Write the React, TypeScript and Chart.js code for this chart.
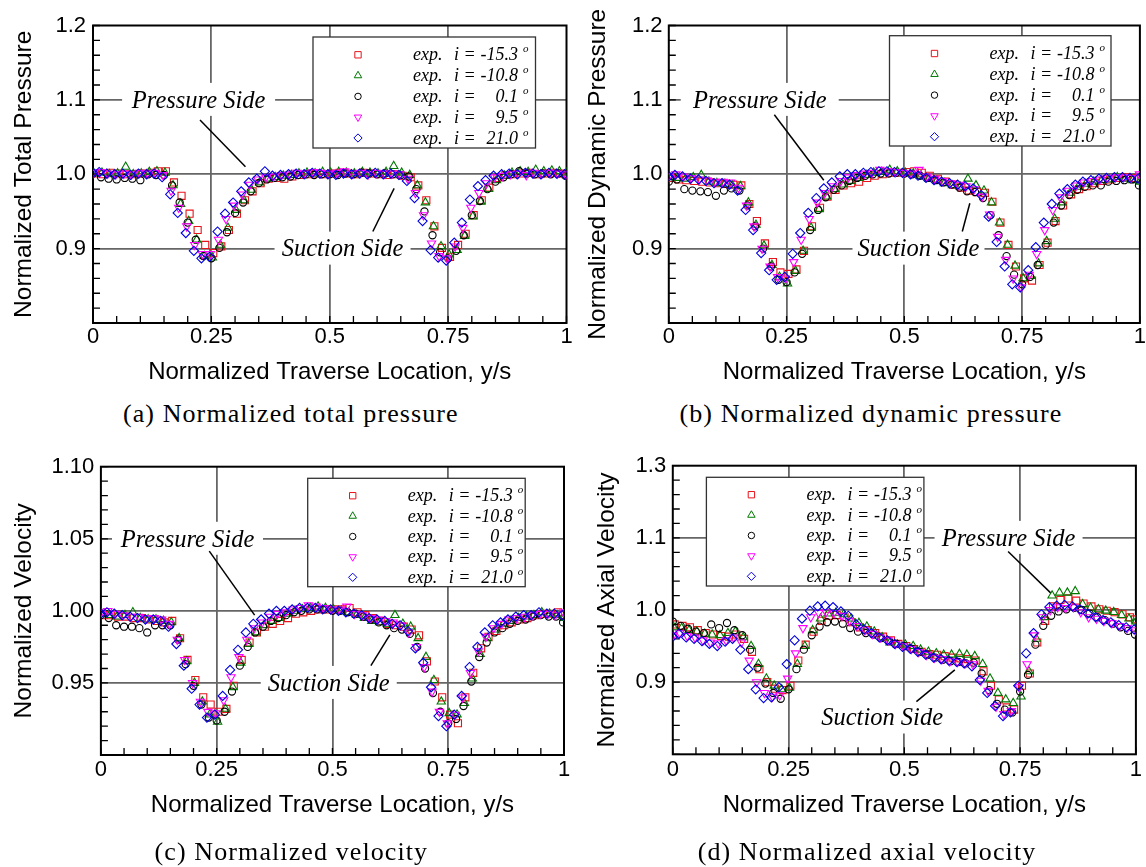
import React, { useEffect, useRef } from "react";
import { Chart, registerables } from "chart.js";
import { drawPoint } from "chart.js/helpers";

Chart.register(...registerables);

const SANS = '"Liberation Sans", Arial, Helvetica, sans-serif';
const SERIF = '"Liberation Serif", "Times New Roman", serif';

// Traverse positions (y/s) of each incidence run
const traverseRed = [
  0.004, 0.021, 0.037, 0.054, 0.071, 0.087, 0.104, 0.121, 0.137, 0.154,
  0.171, 0.187, 0.204, 0.221, 0.237, 0.254, 0.271, 0.287, 0.304, 0.321,
  0.337, 0.354, 0.371, 0.387, 0.404, 0.421, 0.437, 0.454, 0.471, 0.487,
  0.504, 0.521, 0.537, 0.554, 0.571, 0.587, 0.604, 0.621, 0.637, 0.654,
  0.671, 0.687, 0.704, 0.721, 0.737, 0.754, 0.771, 0.787, 0.804, 0.821,
  0.837, 0.854, 0.871, 0.887, 0.904, 0.921, 0.937, 0.954, 0.971, 0.987,
  0.998,
];
const traverseGreen = [
  0.002, 0.019, 0.035, 0.052, 0.069, 0.085, 0.102, 0.119, 0.135, 0.152,
  0.169, 0.185, 0.202, 0.219, 0.235, 0.252, 0.269, 0.285, 0.302, 0.319,
  0.335, 0.352, 0.369, 0.385, 0.402, 0.419, 0.435, 0.452, 0.469, 0.485,
  0.502, 0.519, 0.535, 0.552, 0.569, 0.585, 0.602, 0.619, 0.635, 0.652,
  0.669, 0.685, 0.702, 0.719, 0.735, 0.752, 0.769, 0.785, 0.802, 0.819,
  0.835, 0.852, 0.869, 0.885, 0.902, 0.919, 0.935, 0.952, 0.969, 0.985,
  1.0,
];
const traverseBlack = [
  0.0, 0.017, 0.033, 0.05, 0.067, 0.083, 0.1, 0.117, 0.133, 0.15,
  0.167, 0.183, 0.2, 0.217, 0.233, 0.25, 0.267, 0.283, 0.3, 0.317,
  0.333, 0.35, 0.367, 0.383, 0.4, 0.417, 0.433, 0.45, 0.467, 0.483,
  0.5, 0.517, 0.533, 0.55, 0.567, 0.583, 0.6, 0.617, 0.633, 0.65,
  0.667, 0.683, 0.7, 0.717, 0.733, 0.75, 0.767, 0.783, 0.8, 0.817,
  0.833, 0.85, 0.867, 0.883, 0.9, 0.917, 0.933, 0.95, 0.967, 0.983,
  0.998,
];
const traverseMagenta = [
  0.001, 0.015, 0.031, 0.048, 0.065, 0.081, 0.098, 0.115, 0.131, 0.148,
  0.165, 0.181, 0.198, 0.215, 0.231, 0.248, 0.265, 0.281, 0.298, 0.315,
  0.331, 0.348, 0.365, 0.381, 0.398, 0.415, 0.431, 0.448, 0.465, 0.481,
  0.498, 0.515, 0.531, 0.548, 0.565, 0.581, 0.598, 0.615, 0.631, 0.648,
  0.665, 0.681, 0.698, 0.715, 0.731, 0.748, 0.765, 0.781, 0.798, 0.815,
  0.831, 0.848, 0.865, 0.881, 0.898, 0.915, 0.931, 0.948, 0.965, 0.981,
  0.999,
];
const traverseBlue = [
  0.0, 0.013, 0.029, 0.046, 0.063, 0.079, 0.096, 0.113, 0.129, 0.146,
  0.163, 0.179, 0.196, 0.213, 0.229, 0.246, 0.263, 0.279, 0.296, 0.313,
  0.329, 0.346, 0.363, 0.379, 0.396, 0.413, 0.429, 0.446, 0.463, 0.479,
  0.496, 0.513, 0.529, 0.546, 0.563, 0.579, 0.596, 0.613, 0.629, 0.646,
  0.663, 0.679, 0.696, 0.713, 0.729, 0.746, 0.763, 0.779, 0.796, 0.813,
  0.829, 0.846, 0.863, 0.879, 0.896, 0.913, 0.929, 0.946, 0.963, 0.979,
  0.996,
];

// (a) normalized total pressure
const totalPressureRed = [
  1.001, 1.0, 1.002, 1.001, 1.0, 1.0, 1.001, 1.002, 1.004, 1.004,
  0.989, 0.971, 0.947, 0.925, 0.905, 0.894, 0.903, 0.925, 0.947, 0.965,
  0.977, 0.988, 0.994, 0.995, 0.994, 0.997, 0.999, 1.0, 1.001, 1.0,
  1.001, 1.002, 1.001, 1.0, 1.002, 1.001, 1.0, 0.999, 1.0, 0.998,
  0.996, 0.985, 0.965, 0.93, 0.901, 0.889, 0.905, 0.92, 0.945, 0.965,
  0.982, 0.995, 0.999, 1.0, 1.001, 1.002, 1.0, 1.001, 1.002, 1.001,
  1.0,
];
const totalPressureGreen = [
  1.001, 1.002, 1.0, 1.001, 1.01, 1.0, 1.001, 1.003, 1.004, 1.002,
  0.985, 0.96, 0.937, 0.912, 0.89, 0.888, 0.905, 0.928, 0.952, 0.965,
  0.979, 0.989, 0.994, 0.996, 0.998, 0.999, 1.001, 1.002, 1.001, 1.003,
  1.002, 1.003, 1.002, 1.001, 1.003, 1.002, 1.001, 1.003, 1.011, 1.002,
  0.999, 0.985, 0.962, 0.93, 0.903, 0.892, 0.898, 0.917, 0.943, 0.963,
  0.98, 0.992, 0.998, 1.002, 1.004, 1.003, 1.006, 1.004, 1.005, 1.004,
  1.002,
];
const totalPressureBlack = [
  1.001, 0.996, 0.994, 0.993, 0.995, 0.994, 0.992, 1.0, 0.999, 0.999,
  0.985, 0.962, 0.935, 0.912, 0.89, 0.887, 0.901, 0.922, 0.948, 0.962,
  0.977, 0.988, 0.993, 0.995, 0.996, 0.997, 0.999, 1.0, 0.999, 1.0,
  1.0, 0.999, 1.001, 1.0, 1.002, 1.001, 1.0, 1.001, 1.0, 0.999,
  0.997, 0.98, 0.95, 0.918, 0.895, 0.887, 0.897, 0.918, 0.945, 0.964,
  0.98, 0.99, 0.996, 1.0, 1.004, 1.001, 1.0, 1.001, 1.0, 1.001,
  0.998,
];
const totalPressureMagenta = [
  1.002, 1.003, 1.001, 1.0, 1.001, 1.0, 1.002, 1.001, 1.002, 0.999,
  0.978, 0.955, 0.93, 0.905, 0.893, 0.893, 0.912, 0.94, 0.958, 0.973,
  0.986, 0.993, 0.996, 0.997, 0.999, 1.0, 1.002, 1.001, 1.003, 1.002,
  1.001, 1.002, 1.004, 1.001, 1.002, 1.0, 1.002, 1.001, 1.001, 1.0,
  0.994, 0.975, 0.945, 0.907, 0.89, 0.887, 0.903, 0.928, 0.955, 0.975,
  0.988, 0.996, 0.998, 1.0, 1.001, 0.999, 1.002, 1.001, 1.002, 1.001,
  1.0,
];
const totalPressureBlue = [
  1.002, 1.003, 1.001, 1.0, 1.001, 0.999, 1.001, 1.0, 1.001, 0.996,
  0.973, 0.948, 0.921, 0.897, 0.887, 0.889, 0.923, 0.947, 0.962, 0.977,
  0.989, 0.994, 1.004, 0.998, 0.999, 1.0, 1.001, 1.0, 1.002, 1.001,
  1.0, 0.999, 1.001, 1.0, 1.001, 1.0, 1.002, 1.0, 1.001, 0.999,
  0.991, 0.968, 0.937, 0.898, 0.888, 0.884, 0.908, 0.935, 0.966, 0.984,
  0.992, 0.998, 1.0, 1.001, 1.0, 1.002, 1.001, 1.0, 1.002, 1.001,
  1.0,
];

// (b) normalized dynamic pressure
const dynamicPressureRed = [
  0.995, 0.993, 0.992, 0.991, 0.99, 0.989, 0.988, 0.987, 0.986, 0.985,
  0.96, 0.937, 0.907, 0.882, 0.868, 0.866, 0.872, 0.897, 0.93, 0.955,
  0.97, 0.979, 0.985, 0.988, 0.99, 0.995, 0.998, 1.0, 1.002, 1.002,
  1.003, 1.004, 1.002, 0.998, 0.994, 0.99, 0.986, 0.982, 0.978, 0.976,
  0.975, 0.963, 0.935, 0.905, 0.876, 0.86, 0.857, 0.878, 0.908, 0.937,
  0.958, 0.973, 0.98, 0.984, 0.988, 0.991, 0.993, 0.995, 0.996, 0.995,
  0.994,
];
const dynamicPressureGreen = [
  0.996, 0.995, 0.994, 0.996, 0.999, 0.99, 0.988, 0.987, 0.985, 0.984,
  0.962, 0.932, 0.904, 0.878, 0.862, 0.853, 0.87, 0.897, 0.928, 0.953,
  0.97, 0.98, 0.986, 0.991, 0.995, 0.999, 1.002, 1.003, 1.006, 1.004,
  1.002, 1.001, 0.998, 0.994, 0.991, 0.988, 0.985, 0.983, 0.994, 0.985,
  0.978, 0.962, 0.935, 0.905, 0.877, 0.86, 0.863, 0.88, 0.91, 0.94,
  0.962, 0.975, 0.983, 0.987, 0.99, 0.992, 0.993, 0.996, 0.994, 0.992,
  0.99,
];
const dynamicPressureBlack = [
  0.99, 0.993, 0.98, 0.978, 0.977, 0.976, 0.971, 0.978, 0.981, 0.978,
  0.958, 0.93, 0.9, 0.876, 0.858, 0.855, 0.868, 0.893, 0.925, 0.952,
  0.969, 0.979, 0.985, 0.991, 0.995, 0.998, 1.0, 1.001, 1.001, 1.002,
  1.001, 1.0, 0.998, 0.995, 0.992, 0.989, 0.986, 0.982, 0.977, 0.976,
  0.968, 0.945, 0.918, 0.89, 0.865, 0.852, 0.862, 0.878, 0.905, 0.935,
  0.958, 0.972, 0.979, 0.983, 0.985, 0.985, 0.99, 0.991, 0.992, 0.993,
  0.985,
];
const dynamicPressureMagenta = [
  0.998, 1.0, 0.997, 0.995, 0.993, 0.992, 0.99, 0.99, 0.989, 0.982,
  0.958, 0.93, 0.9, 0.876, 0.862, 0.86, 0.882, 0.912, 0.94, 0.962,
  0.975, 0.984, 0.991, 0.996, 0.999, 1.001, 1.002, 1.006, 1.004, 1.003,
  1.002, 1.001, 1.006, 0.997, 0.994, 0.991, 0.988, 0.986, 0.984, 0.98,
  0.97, 0.946, 0.916, 0.885, 0.86, 0.848, 0.865, 0.893, 0.925, 0.952,
  0.969, 0.978, 0.985, 0.989, 0.991, 0.993, 0.995, 0.996, 0.996, 0.995,
  1.0,
];
const dynamicPressureBlue = [
  0.997, 0.999, 0.997, 0.994, 0.993, 0.991, 0.988, 0.988, 0.986, 0.978,
  0.952, 0.925, 0.894, 0.871, 0.858, 0.862, 0.893, 0.921, 0.948, 0.968,
  0.981, 0.989, 0.997, 1.0, 1.0, 1.002, 1.003, 1.004, 1.004, 1.003,
  1.002, 1.0, 0.998, 0.995, 0.992, 0.99, 0.988, 0.986, 0.984, 0.981,
  0.972, 0.943, 0.909, 0.876, 0.852, 0.848, 0.871, 0.902, 0.935, 0.96,
  0.974, 0.98, 0.986, 0.99, 0.992, 0.994, 0.995, 0.996, 0.996, 0.995,
  0.994,
];

// (c) normalized velocity
const velocityRed = [
  0.997, 0.997, 0.996, 0.996, 0.995, 0.995, 0.994, 0.993, 0.992, 0.993,
  0.981, 0.966, 0.952, 0.94, 0.935, 0.93, 0.932, 0.948, 0.966, 0.978,
  0.985, 0.989, 0.991, 0.993, 0.995, 0.998, 0.999, 1.0, 1.001, 1.001,
  1.001, 1.001, 1.002, 0.999, 0.997, 0.995, 0.993, 0.991, 0.99, 0.989,
  0.987, 0.983, 0.965, 0.951, 0.94, 0.928, 0.922, 0.94, 0.957, 0.974,
  0.982, 0.986, 0.99, 0.992, 0.994, 0.995, 0.997, 0.998, 0.998, 0.999,
  0.997,
];
const velocityGreen = [
  0.998, 0.997, 0.996, 0.997, 0.999, 0.995, 0.994, 0.994, 0.993, 0.992,
  0.981, 0.965, 0.95, 0.937, 0.928, 0.923, 0.932, 0.947, 0.964, 0.977,
  0.985, 0.99, 0.993, 0.995, 0.998, 1.0, 1.001, 1.002, 1.003, 1.002,
  1.001, 1.0, 0.999, 0.997, 0.995, 0.993, 0.992, 0.991, 0.997, 0.991,
  0.989, 0.981, 0.968, 0.952, 0.937, 0.929, 0.928, 0.936, 0.953, 0.97,
  0.981, 0.987, 0.991, 0.993, 0.995, 0.996, 0.997, 0.999, 0.998, 0.997,
  0.995,
];
const velocityBlack = [
  0.997, 0.995, 0.99, 0.989, 0.989, 0.988, 0.985, 0.99, 0.99, 0.99,
  0.98, 0.963, 0.948, 0.935, 0.926, 0.924, 0.93, 0.944, 0.962, 0.975,
  0.985, 0.989, 0.993, 0.995, 0.997, 0.999, 1.0, 1.001, 1.001, 1.001,
  1.0, 1.0, 0.999, 0.998, 0.996, 0.994, 0.992, 0.99, 0.988, 0.987,
  0.984, 0.975, 0.96, 0.943, 0.93, 0.922, 0.925, 0.934, 0.951, 0.968,
  0.978, 0.985, 0.988, 0.991, 0.993, 0.994, 0.996, 0.997, 0.996, 0.996,
  0.992,
];
const velocityMagenta = [
  0.999, 1.0, 0.998, 0.997, 0.996, 0.996, 0.995, 0.995, 0.994, 0.991,
  0.98, 0.966, 0.95, 0.937, 0.93, 0.929, 0.938, 0.954, 0.968, 0.98,
  0.988, 0.992, 0.996, 0.998, 0.999, 1.001, 1.002, 1.004, 1.003, 1.002,
  1.001, 1.001, 1.003, 0.998, 0.997, 0.995, 0.994, 0.993, 0.992, 0.99,
  0.985, 0.975, 0.961, 0.944, 0.93, 0.922, 0.928, 0.94, 0.957, 0.972,
  0.982, 0.988, 0.991, 0.994, 0.995, 0.996, 0.997, 0.998, 0.998, 0.997,
  0.999,
];
const velocityBlue = [
  0.998, 0.999, 0.998, 0.997, 0.996, 0.995, 0.994, 0.994, 0.993, 0.989,
  0.977, 0.962, 0.946, 0.935, 0.926, 0.928, 0.941, 0.959, 0.973, 0.985,
  0.991, 0.994, 0.998, 1.0, 1.0, 1.001, 1.002, 1.002, 1.002, 1.001,
  1.001, 1.0, 0.999, 0.998, 0.997, 0.995, 0.994, 0.993, 0.991, 0.99,
  0.986, 0.974, 0.964, 0.947, 0.927, 0.92, 0.928, 0.941, 0.961, 0.975,
  0.985, 0.99, 0.992, 0.994, 0.996, 0.997, 0.997, 0.999, 0.998, 0.998,
  0.997,
];

// (d) normalized axial velocity
const axialVelocityRed = [
  0.98, 0.978, 0.976, 0.972, 0.968, 0.966, 0.964, 0.963, 0.966, 0.96,
  0.942, 0.918, 0.9, 0.891, 0.889, 0.895, 0.93, 0.952, 0.97, 0.985,
  0.992, 0.993, 0.99, 0.983, 0.976, 0.972, 0.968, 0.963, 0.958, 0.953,
  0.95, 0.946, 0.942, 0.939, 0.938, 0.936, 0.934, 0.933, 0.932, 0.93,
  0.915, 0.895, 0.876, 0.865, 0.862, 0.895, 0.912, 0.955, 0.985, 1.005,
  1.014, 1.016, 1.013, 1.009, 1.005, 1.001, 0.999, 0.997, 0.994, 0.99,
  0.987,
];
const axialVelocityGreen = [
  0.976, 0.975, 0.972, 0.97, 0.967, 0.966, 0.965, 0.968, 0.97, 0.962,
  0.95, 0.925, 0.905, 0.895, 0.89, 0.892, 0.925, 0.95, 0.972, 0.988,
  0.995, 0.996, 0.994, 0.988, 0.982, 0.977, 0.97, 0.962, 0.955, 0.952,
  0.952, 0.95, 0.945, 0.942, 0.94, 0.938, 0.938, 0.939, 0.938, 0.936,
  0.925, 0.905, 0.885, 0.876, 0.871, 0.88, 0.915, 0.96, 0.99, 1.02,
  1.024, 1.024, 1.026, 1.008, 1.003, 1.001, 0.999, 0.997, 0.993, 0.988,
  0.984,
];
const axialVelocityBlack = [
  0.984, 0.978, 0.974, 0.97, 0.968, 0.98, 0.975, 0.982, 0.972, 0.965,
  0.945, 0.92, 0.898, 0.885, 0.877, 0.89, 0.918, 0.945, 0.965, 0.977,
  0.983, 0.984, 0.981, 0.975, 0.97, 0.968, 0.966, 0.961, 0.957, 0.953,
  0.95, 0.946, 0.942, 0.938, 0.934, 0.931, 0.929, 0.928, 0.926, 0.927,
  0.912, 0.889, 0.87, 0.862, 0.858, 0.887, 0.91, 0.952, 0.978, 0.992,
  0.998, 1.001, 1.003, 1.0, 0.995, 0.99, 0.986, 0.981, 0.976, 0.971,
  0.966,
];
const axialVelocityMagenta = [
  0.965, 0.968, 0.964, 0.962, 0.958, 0.955, 0.954, 0.958, 0.962, 0.955,
  0.93, 0.9, 0.885, 0.88, 0.882, 0.905, 0.94, 0.975, 0.99, 0.996,
  0.997, 0.996, 0.992, 0.985, 0.978, 0.972, 0.967, 0.962, 0.958, 0.953,
  0.95, 0.946, 0.942, 0.938, 0.934, 0.932, 0.929, 0.928, 0.926, 0.925,
  0.902, 0.888, 0.866, 0.856, 0.86, 0.893, 0.925, 0.965, 0.99, 1.0,
  1.004, 1.003, 1.004, 0.997, 0.99, 0.988, 0.985, 0.982, 0.978, 0.975,
  0.972,
];
const axialVelocityBlue = [
  0.963, 0.967, 0.962, 0.96, 0.957, 0.953, 0.95, 0.956, 0.96, 0.945,
  0.918, 0.89, 0.878, 0.879, 0.893, 0.925, 0.958, 0.988, 0.999, 1.005,
  1.006, 1.004, 0.998, 0.992, 0.98, 0.973, 0.968, 0.962, 0.958, 0.953,
  0.949, 0.946, 0.942, 0.938, 0.934, 0.932, 0.93, 0.928, 0.926, 0.922,
  0.903, 0.885, 0.867, 0.853, 0.858, 0.895, 0.94, 0.968, 0.994, 1.004,
  1.006, 1.007, 1.005, 1.001, 0.995, 0.99, 0.986, 0.983, 0.979, 0.976,
  0.973,
];

// Incidence runs: legend values, colours and open markers
const incidences = ["-15.3", "-10.8", "0.1", "9.5", "21.0"];
const traverses = [traverseRed, traverseGreen, traverseBlack, traverseMagenta, traverseBlue];
const seriesColors = ["#e8141c", "#007800", "#000000", "#ff00ff", "#0000e0"];
const seriesMarkers = ["rect", "triangle", "circle", "triangle", "rectRot"];
const seriesRotations = [0, 0, 0, 180, 0];
const seriesRadii = [5.0, 4.8, 3.6, 4.8, 4.6];

// Axis ticks
const xTickValues = [0, 0.25, 0.5, 0.75, 1];
const xTickLabels = ["0", "0.25", "0.5", "0.75", "1"];
const pressureTickValues = [0.8, 0.9, 1.0, 1.1, 1.2];
const pressureTickLabels = ["", "0.9", "1.0", "1.1", "1.2"];
const velocityTickValues = [0.9, 0.95, 1.0, 1.05, 1.1];
const velocityTickLabels = ["", "0.95", "1.00", "1.05", "1.10"];
const axialTickValues = [0.8, 0.9, 1.0, 1.1, 1.2];
const axialTickLabels = ["", "0.9", "1.0", "1.1", "1.3"];

const X_TITLE = "Normalized Traverse Location, y/s";
const GRID_COLOR = "#666666";

type Note = { text: string; x: number; y: number; halfW: number; leader: number[] };
type PanelSpec = {
  id: string;
  left: number;
  top: number;
  width: number;
  height: number;
  area: { left: number; top: number; right: number; bottom: number };
  xScaleHeight: number;
  xLabelPad: number;
  xTitlePad: number;
  yLabelPad: number;
  yTitleX: number;
  yMin: number;
  yMax: number;
  yMinor: number;
  yTickValues: number[];
  yTickLabels: string[];
  yTitle: string;
  series: number[][];
  legend: { dx: number; dy: number; w: number; h: number; rowStart: number; rowStep: number };
  notes: Note[];
  caption: string;
  captionX: number;
  captionBaseline: number;
};

const panels: PanelSpec[] = [
  {
    id: "a",
    left: 0,
    top: 0,
    width: 573,
    height: 395,
    area: { left: 93, top: 25.5, right: 566.5, bottom: 323 },
    xScaleHeight: 72,
    xLabelPad: 1,
    xTitlePad: 8.6,
    yLabelPad: 7,
    yTitleX: 24,
    yMin: 0.8,
    yMax: 1.2,
    yMinor: 0.02,
    yTickValues: pressureTickValues,
    yTickLabels: pressureTickLabels,
    yTitle: "Normalized Total Pressure",
    series: [totalPressureRed, totalPressureGreen, totalPressureBlack, totalPressureMagenta, totalPressureBlue],
    legend: { dx: 220, dy: 11.5, w: 222.5, h: 111, rowStart: 17.8, rowStep: 20.8 },
    notes: [
      { text: "Pressure Side", x: 0.223, y: 1.1, halfW: 76.5, leader: [0.226, 1.073, 0.322, 1.01] },
      { text: "Suction Side", x: 0.527, y: 0.9, halfW: 68, leader: [0.591, 0.923, 0.636, 0.981] },
    ],
    caption: "(a) Normalized total pressure",
    captionX: 290.8,
    captionBaseline: 423,
  },
  {
    id: "b",
    left: 573,
    top: 0,
    width: 573,
    height: 395,
    area: { left: 95.8, top: 25.5, right: 569.4, bottom: 323 },
    xScaleHeight: 72,
    xLabelPad: 1,
    xTitlePad: 8.6,
    yLabelPad: 6.3,
    yTitleX: 25.6,
    yMin: 0.8,
    yMax: 1.2,
    yMinor: 0.02,
    yTickValues: pressureTickValues,
    yTickLabels: pressureTickLabels,
    yTitle: "Normalized Dynamic Pressure",
    series: [dynamicPressureRed, dynamicPressureGreen, dynamicPressureBlack, dynamicPressureMagenta, dynamicPressureBlue],
    legend: { dx: 220.7, dy: 10.2, w: 221.5, h: 110.3, rowStart: 17.8, rowStep: 20.8 },
    notes: [
      { text: "Pressure Side", x: 0.193, y: 1.1, halfW: 79, leader: [0.224, 1.08, 0.329, 0.992] },
      { text: "Suction Side", x: 0.53, y: 0.9, halfW: 66, leader: [0.623, 0.923, 0.639, 0.961] },
    ],
    caption: "(b) Normalized dynamic pressure",
    captionX: 870.9,
    captionBaseline: 423,
  },
  {
    id: "c",
    left: 0,
    top: 440,
    width: 573,
    height: 427,
    area: { left: 100.9, top: 26.7, right: 564, bottom: 315 },
    xScaleHeight: 70,
    xLabelPad: 1.8,
    xTitlePad: 5.6,
    yLabelPad: 6.6,
    yTitleX: 23.8,
    yMin: 0.9,
    yMax: 1.1,
    yMinor: 0.01,
    yTickValues: velocityTickValues,
    yTickLabels: velocityTickLabels,
    yTitle: "Normalized Velocity",
    series: [velocityRed, velocityGreen, velocityBlack, velocityMagenta, velocityBlue],
    legend: { dx: 206.8, dy: 11.6, w: 217.5, h: 108.4, rowStart: 17.4, rowStep: 20.4 },
    notes: [
      { text: "Pressure Side", x: 0.187, y: 1.05, halfW: 75.5, leader: [0.234, 1.0414, 0.332, 0.997] },
      { text: "Suction Side", x: 0.492, y: 0.95, halfW: 68, leader: [0.583, 0.962, 0.624, 0.9834] },
    ],
    caption: "(c) Normalized velocity",
    captionX: 291.4,
    captionBaseline: 860.7,
  },
  {
    id: "d",
    left: 573,
    top: 440,
    width: 573,
    height: 427,
    area: { left: 99.8, top: 25.7, right: 562.9, bottom: 314.3 },
    xScaleHeight: 70,
    xLabelPad: 2.5,
    xTitlePad: 4.9,
    yLabelPad: 6.6,
    yTitleX: 34.7,
    yMin: 0.8,
    yMax: 1.2,
    yMinor: 0.02,
    yTickValues: axialTickValues,
    yTickLabels: axialTickLabels,
    yTitle: "Normalized Axial Velocity",
    series: [axialVelocityRed, axialVelocityGreen, axialVelocityBlack, axialVelocityMagenta, axialVelocityBlue],
    legend: { dx: 33.6, dy: 11.6, w: 217.5, h: 108.7, rowStart: 17.4, rowStep: 20.4 },
    notes: [
      { text: "Pressure Side", x: 0.725, y: 1.1, halfW: 74, leader: [0.724, 1.081, 0.817, 1.023] },
      { text: "Suction Side", x: 0.452, y: 0.851, halfW: 66, leader: [0.526, 0.873, 0.609, 0.917] },
    ],
    caption: "(d) Normalized axial velocity",
    captionX: 867,
    captionBaseline: 860.7,
  },
];

function labelFor(value: number, values: number[], labels: string[]) {
  const k = values.findIndex((v) => Math.abs(v - value) < 1e-6);
  return k >= 0 ? labels[k] : "";
}

function makeDecor(spec: PanelSpec) {
  return {
    id: "panelDecor" + spec.id,
    beforeDatasetsDraw(chart: any) {
      const { ctx, chartArea: a, scales } = chart;
      const xs = scales.x;
      const ys = scales.y;
      ctx.save();

      // inward minor ticks on the bottom and left axes
      ctx.strokeStyle = "#000";
      ctx.lineWidth = 1.3;
      ctx.beginPath();
      for (let k = 0; k <= 20; k++) {
        const px = xs.getPixelForValue(k * 0.05);
        ctx.moveTo(px, a.bottom);
        ctx.lineTo(px, a.bottom - 7);
      }
      const nY = Math.round((spec.yMax - spec.yMin) / spec.yMinor);
      for (let k = 0; k <= nY; k++) {
        const py = ys.getPixelForValue(spec.yMin + k * spec.yMinor);
        ctx.moveTo(a.left, py);
        ctx.lineTo(a.left + 7, py);
      }
      ctx.stroke();

      // side labels with their leader lines
      for (const note of spec.notes) {
        const px = xs.getPixelForValue(note.x);
        const py = ys.getPixelForValue(note.y);
        ctx.fillStyle = "#fff";
        ctx.fillRect(px - note.halfW, py - 17, note.halfW * 2, 33);
        ctx.fillStyle = "#000";
        ctx.font = `italic 24.5px ${SERIF}`;
        ctx.textAlign = "center";
        ctx.textBaseline = "alphabetic";
        ctx.fillText(note.text, px, py + 7.8);
        const [x1, y1, x2, y2] = note.leader;
        ctx.strokeStyle = "#000";
        ctx.lineWidth = 1.5;
        ctx.beginPath();
        ctx.moveTo(xs.getPixelForValue(x1), ys.getPixelForValue(y1));
        ctx.lineTo(xs.getPixelForValue(x2), ys.getPixelForValue(y2));
        ctx.stroke();
      }

      // legend box
      const L = spec.legend;
      const bx = a.left + L.dx;
      const by = a.top + L.dy;
      ctx.fillStyle = "#fff";
      ctx.fillRect(bx, by, L.w, L.h);
      ctx.strokeStyle = "#333";
      ctx.lineWidth = 1.3;
      ctx.strokeRect(bx, by, L.w, L.h);
      chart.data.datasets.forEach((ds: any, k: number) => {
        const ry = by + L.rowStart + k * L.rowStep;
        ctx.strokeStyle = ds.borderColor;
        ctx.fillStyle = "rgba(0,0,0,0)";
        ctx.lineWidth = 1;
        drawPoint(
          ctx,
          { pointStyle: ds.pointStyle, rotation: ds.pointRotation, radius: ds.pointRadius * 0.9, borderWidth: 1 } as any,
          bx + 45,
          ry
        );
        ctx.fillStyle = "#000";
        ctx.font = `italic 18px ${SERIF}`;
        ctx.textBaseline = "alphabetic";
        ctx.textAlign = "left";
        ctx.fillText("exp.", bx + 100, ry + 5.5);
        ctx.fillText("i =", bx + 141, ry + 5.5);
        ctx.textAlign = "right";
        ctx.fillText(incidences[k], bx + 205, ry + 5.5);
        ctx.textAlign = "left";
        ctx.font = `italic 11px ${SERIF}`;
        ctx.fillText("o", bx + 210, ry - 2.5);
      });

      // plot frame
      ctx.strokeStyle = "#000";
      ctx.lineWidth = 2;
      ctx.strokeRect(a.left, a.top, a.right - a.left, a.bottom - a.top);
      ctx.restore();
    },
    afterDraw(chart: any) {
      const { ctx, chartArea: a } = chart;
      ctx.save();
      ctx.translate(spec.yTitleX, (a.top + a.bottom) / 2);
      ctx.rotate(-Math.PI / 2);
      ctx.fillStyle = "#000";
      ctx.font = `24.5px ${SANS}`;
      ctx.textAlign = "center";
      ctx.textBaseline = "middle";
      ctx.fillText(spec.yTitle, 0, 0);
      ctx.restore();
    },
  };
}

function Panel({ spec }: { spec: PanelSpec }) {
  const ref = useRef<HTMLCanvasElement | null>(null);

  useEffect(() => {
    if (!ref.current) return;
    const datasets = spec.series.map((ys, k) => ({
      label: `exp.  i = ${incidences[k]}°`,
      data: traverses[k].map((x, i) => ({ x, y: ys[i] })),
      showLine: false,
      borderColor: seriesColors[k],
      pointBorderColor: seriesColors[k],
      backgroundColor: "rgba(0,0,0,0)",
      pointBackgroundColor: "rgba(0,0,0,0)",
      pointStyle: seriesMarkers[k],
      pointRotation: seriesRotations[k],
      pointRadius: seriesRadii[k],
      pointHoverRadius: seriesRadii[k],
      pointBorderWidth: 1.1,
      order: 4 - k,
    }));
    const gridColor = (n: number) => (c: any) =>
      c.index > 0 && c.index < n - 1 ? GRID_COLOR : "rgba(0,0,0,0)";

    const chart = new Chart(ref.current, {
      type: "scatter",
      data: { datasets },
      plugins: [makeDecor(spec)],
      options: {
        animation: false,
        responsive: false,
        events: [],
        layout: {
          padding: {
            left: 0,
            top: spec.area.top,
            right: spec.width - spec.area.right,
            bottom: spec.height - spec.area.bottom - spec.xScaleHeight,
          },
        },
        plugins: { legend: { display: false }, tooltip: { enabled: false } },
        scales: {
          x: {
            type: "linear",
            min: 0,
            max: 1,
            afterFit: (s: any) => {
              s.height = spec.xScaleHeight;
              s.paddingLeft = 0;
              s.paddingRight = 0;
            },
            afterBuildTicks: (s: any) => {
              s.ticks = xTickValues.map((v) => ({ value: v }));
            },
            ticks: {
              font: { family: SANS, size: 22 },
              color: "#000",
              padding: spec.xLabelPad,
              maxRotation: 0,
              autoSkip: false,
              callback: (v: any) => labelFor(Number(v), xTickValues, xTickLabels),
            },
            grid: { drawTicks: false, color: gridColor(xTickValues.length), lineWidth: 1.8 },
            border: { display: false },
            title: {
              display: true,
              text: X_TITLE,
              color: "#000",
              font: { family: SANS, size: 24 },
              padding: { top: 0, bottom: spec.xTitlePad },
            },
          },
          y: {
            type: "linear",
            min: spec.yMin,
            max: spec.yMax,
            afterFit: (s: any) => {
              s.width = spec.area.left;
              s.paddingTop = 0;
              s.paddingBottom = 0;
            },
            afterBuildTicks: (s: any) => {
              s.ticks = spec.yTickValues.map((v) => ({ value: v }));
            },
            ticks: {
              font: { family: SANS, size: 22 },
              color: "#000",
              padding: spec.yLabelPad,
              autoSkip: false,
              callback: (v: any) => labelFor(Number(v), spec.yTickValues, spec.yTickLabels),
            },
            grid: { drawTicks: false, color: gridColor(spec.yTickValues.length), lineWidth: 1.8 },
            border: { display: false },
            title: { display: false },
          },
        },
      } as any,
    });
    return () => chart.destroy();
  }, [spec]);

  return (
    <canvas
      ref={ref}
      width={spec.width}
      height={spec.height}
      style={{ position: "absolute", left: spec.left, top: spec.top, width: spec.width, height: spec.height }}
    />
  );
}

export default function App() {
  return (
    <div
      style={{
        position: "absolute",
        left: 0,
        top: 0,
        width: 1146,
        height: 867,
        background: "#fff",
        overflow: "hidden",
      }}
    >
      {panels.map((p) => (
        <Panel key={p.id} spec={p} />
      ))}
      {panels.map((p) => (
        <div
          key={"cap" + p.id}
          style={{
            position: "absolute",
            left: p.captionX - 300,
            top: p.captionBaseline - 23.8,
            width: 600,
            textAlign: "center",
            fontFamily: SERIF,
            fontSize: 26,
            lineHeight: "30px",
            letterSpacing: "1.1px",
            color: "#000",
            whiteSpace: "nowrap",
          }}
        >
          {p.caption}
        </div>
      ))}
    </div>
  );
}
